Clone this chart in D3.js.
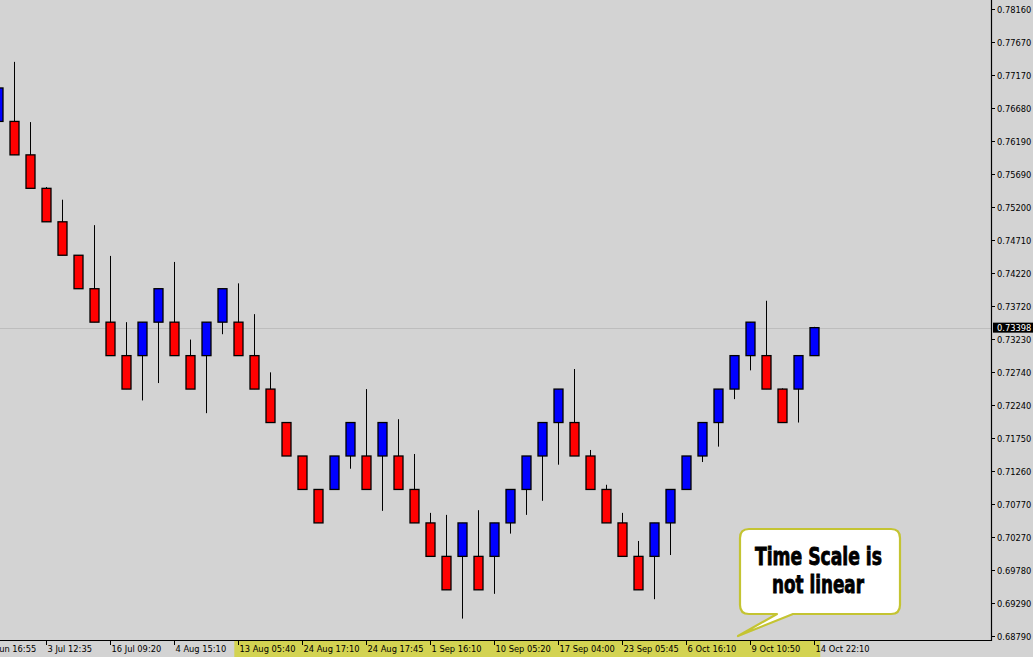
<!DOCTYPE html>
<html>
<head>
<meta charset="utf-8">
<script src="https://cdn.jsdelivr.net/npm/d3@7"></script>
<style>
  html, body { margin: 0; padding: 0; background: #d3d3d3; overflow: hidden; }
  svg { display: block; }
</style>
</head>
<body>
<svg id="chart" width="1033" height="657"></svg>
<script>
// ---- Data (renko bricks) ----
const opens = [0.7648,0.7648,0.7598,0.7548,0.7498,0.7448,0.7398,0.7348,0.7298,0.7298,
  0.7348,0.7348,0.7298,0.7298,0.7348,0.7348,0.7298,0.7248,0.7198,0.7148,
  0.7098,0.7098,0.7148,0.7148,0.7148,0.7148,0.7098,0.7048,0.6998,0.6998,
  0.6998,0.6998,0.7048,0.7098,0.7148,0.7198,0.7198,0.7148,0.7098,0.7048,
  0.6998,0.6998,0.7048,0.7098,0.7148,0.7198,0.7248,0.7298,0.7298,0.7248,
  0.7248,0.7298];
const closes = [0.7698,0.7598,0.7548,0.7498,0.7448,0.7398,0.7348,0.7298,0.7248,0.7348,
  0.7398,0.7298,0.7248,0.7348,0.7398,0.7298,0.7248,0.7198,0.7148,0.7098,
  0.7048,0.7148,0.7198,0.7098,0.7198,0.7098,0.7048,0.6998,0.6948,0.7048,
  0.6948,0.7048,0.7098,0.7148,0.7198,0.7248,0.7148,0.7098,0.7048,0.6998,
  0.6948,0.7048,0.7098,0.7148,0.7198,0.7248,0.7298,0.7348,0.7248,0.7198,
  0.7298,0.73398];
const highs = [0.7698,0.7737,0.7647,0.7550,0.7531,0.7448,0.7493,0.7447,0.7348,0.7348,
  0.7398,0.7438,0.7322,0.7348,0.7398,0.7406,0.7360,0.7273,0.7198,0.7148,
  0.7098,0.7148,0.7198,0.7248,0.7198,0.7203,0.7151,0.7063,0.7060,0.7048,
  0.7067,0.7048,0.7098,0.7148,0.7198,0.7248,0.7278,0.7157,0.7105,0.7063,
  0.7021,0.7048,0.7098,0.7148,0.7198,0.7248,0.7298,0.7348,0.7380,0.7249,
  0.7298,0.7341];
const lows = [0.7648,0.7598,0.7548,0.7498,0.7448,0.7398,0.7348,0.7298,0.7248,0.7231,
  0.7257,0.7298,0.7248,0.7212,0.7330,0.7298,0.7248,0.7198,0.7148,0.7098,
  0.7048,0.7098,0.7129,0.7098,0.7066,0.7098,0.7048,0.6998,0.6948,0.6905,
  0.6948,0.6942,0.7032,0.7060,0.7081,0.7135,0.7148,0.7098,0.7048,0.6998,
  0.6948,0.6934,0.7000,0.7098,0.7139,0.7162,0.7233,0.7276,0.7248,0.7198,
  0.7198,0.7298];

const priceTicks = [0.78160,0.77670,0.77170,0.76680,0.76190,0.75690,0.75200,0.74710,
  0.74220,0.73720,0.73230,0.72740,0.72240,0.71750,0.71260,0.70770,0.70270,0.69780,
  0.69290,0.68790];
const timeTickIndex = [-1,3,7,11,15,19,23,27,31,35,39,43,47,51];
const timeTickLabels = ["27 Jun 16:55","3 Jul 12:35","16 Jul 09:20","4 Aug 15:10",
  "13 Aug 05:40","24 Aug 17:10","24 Aug 17:45","1 Sep 16:10","10 Sep 05:20",
  "17 Sep 04:00","23 Sep 05:45","6 Oct 16:10","9 Oct 10:50","14 Oct 22:10"];
const currentPrice = 0.73398;
const calloutLines = ["Time Scale is", "not linear"];

// ---- Layout ----
const W = 1033, H = 657;
const plotRight = 991, plotBottom = 640;
const svg = d3.select("#chart");
svg.append("rect").attr("width", W).attr("height", H).attr("fill", "#d3d3d3");

const y = d3.scaleLinear().domain([0.68790, 0.78160]).range([636, 9]);
const x = d3.scaleLinear().domain([0, 51]).range([-1.7, 814.3]);

// clip for plot area
svg.append("defs").append("clipPath").attr("id", "plotClip")
  .append("rect").attr("x", 0).attr("y", 0).attr("width", plotRight).attr("height", plotBottom);

const plot = svg.append("g").attr("clip-path", "url(#plotClip)");

// current price line
plot.append("line")
  .attr("x1", 0).attr("x2", plotRight)
  .attr("y1", Math.round(y(currentPrice)) + 0.5).attr("y2", Math.round(y(currentPrice)) + 0.5)
  .attr("stroke", "#bdbdbd").attr("stroke-width", 1);

const candles = opens.map((o, i) => ({ i, o, c: closes[i], h: highs[i], l: lows[i] }));

const cg = plot.selectAll("g.candle").data(candles).join("g").attr("class", "candle");
cg.append("line")
  .attr("x1", d => Math.round(x(d.i)) + 0.5).attr("x2", d => Math.round(x(d.i)) + 0.5)
  .attr("y1", d => y(d.h)).attr("y2", d => y(d.l))
  .attr("stroke", "#000").attr("stroke-width", 1);
cg.append("rect")
  .attr("x", d => Math.round(x(d.i)) - 4)
  .attr("width", 9)
  .attr("y", d => y(Math.max(d.o, d.c)))
  .attr("height", d => Math.abs(y(d.o) - y(d.c)))
  .attr("fill", d => d.c >= d.o ? "#0000ff" : "#ff0000")
  .attr("stroke", "#000").attr("stroke-width", 1.3);

// ---- Axes ----
// yellow highlight on time axis
svg.append("rect")
  .attr("x", x(15) - 4).attr("y", plotBottom + 1)
  .attr("width", x(51) + 6 - (x(15) - 4)).attr("height", H - plotBottom - 1)
  .attr("fill", "#d3d352");

// axis lines
svg.append("line").attr("x1", plotRight + 0.5).attr("x2", plotRight + 0.5)
  .attr("y1", 0).attr("y2", plotBottom + 1).attr("stroke", "#000").attr("stroke-width", 1.2);
svg.append("line").attr("x1", 0).attr("x2", plotRight + 1)
  .attr("y1", plotBottom + 0.5).attr("y2", plotBottom + 0.5).attr("stroke", "#000").attr("stroke-width", 1.2);

// price ticks
const yAxis = svg.append("g");
const yt = yAxis.selectAll("g").data(priceTicks).join("g")
  .attr("transform", d => `translate(0,${Math.round(y(d)) + 0.5})`);
yt.append("line").attr("x1", plotRight).attr("x2", plotRight + 4).attr("stroke", "#000");
yt.append("text").attr("x", plotRight + 6).attr("y", 3)
  .attr("font-family", "DejaVu Sans, sans-serif").attr("font-size", "8.3px")
  .attr("fill", "#000").text(d => d.toFixed(5));

// current price label
const cpY = y(currentPrice);
svg.append("rect").attr("x", plotRight + 2).attr("y", cpY - 5).attr("width", W - plotRight - 2).attr("height", 10)
  .attr("fill", "#000");
svg.append("text").attr("x", plotRight + 6).attr("y", cpY + 3.5)
  .attr("font-family", "DejaVu Sans, sans-serif").attr("font-size", "8.3px")
  .attr("fill", "#fff").text(currentPrice.toFixed(5));

// time ticks
const xAxis = svg.append("g");
const xt = xAxis.selectAll("g").data(timeTickIndex).join("g")
  .attr("transform", d => `translate(${Math.round(x(d)) + 0.5},0)`);
xt.append("line").attr("y1", plotBottom).attr("y2", plotBottom + 5).attr("stroke", "#000");
xt.append("text").attr("x", 1).attr("y", 652)
  .attr("font-family", "DejaVu Sans, sans-serif").attr("font-size", "8.3px")
  .attr("fill", "#000").text((d, k) => timeTickLabels[k]);

// ---- Callout ----
const bx0 = 740, by0 = 529, bx1 = 900, by1 = 614, r = 9;
const tailA = 777, tailB = 793, tipX = 738, tipY = 636;
const p = d3.path();
p.moveTo(bx0 + r, by0);
p.lineTo(bx1 - r, by0);
p.quadraticCurveTo(bx1, by0, bx1, by0 + r);
p.lineTo(bx1, by1 - r);
p.quadraticCurveTo(bx1, by1, bx1 - r, by1);
p.lineTo(tailB, by1);
p.lineTo(tipX, tipY);
p.lineTo(tailA, by1);
p.lineTo(bx0 + r, by1);
p.quadraticCurveTo(bx0, by1, bx0, by1 - r);
p.lineTo(bx0, by0 + r);
p.quadraticCurveTo(bx0, by0, bx0 + r, by0);
p.closePath();
svg.append("path").attr("d", p.toString())
  .attr("fill", "#ffffff").attr("stroke", "#c4c432").attr("stroke-width", 2.2)
  .attr("stroke-linejoin", "round");

const cText = svg.append("g").attr("font-family", "Liberation Sans Narrow, DejaVu Sans Condensed, sans-serif")
  .attr("font-weight", "bold").attr("font-size", "24px").attr("fill", "#000")
  .attr("stroke", "#000").attr("stroke-width", 0.8);
cText.append("text").attr("x", 755).attr("y", 565)
  .attr("textLength", 127).attr("lengthAdjust", "spacingAndGlyphs").text(calloutLines[0]);
cText.append("text").attr("x", 772).attr("y", 593)
  .attr("textLength", 92).attr("lengthAdjust", "spacingAndGlyphs").text(calloutLines[1]);
</script>
</body>
</html>
